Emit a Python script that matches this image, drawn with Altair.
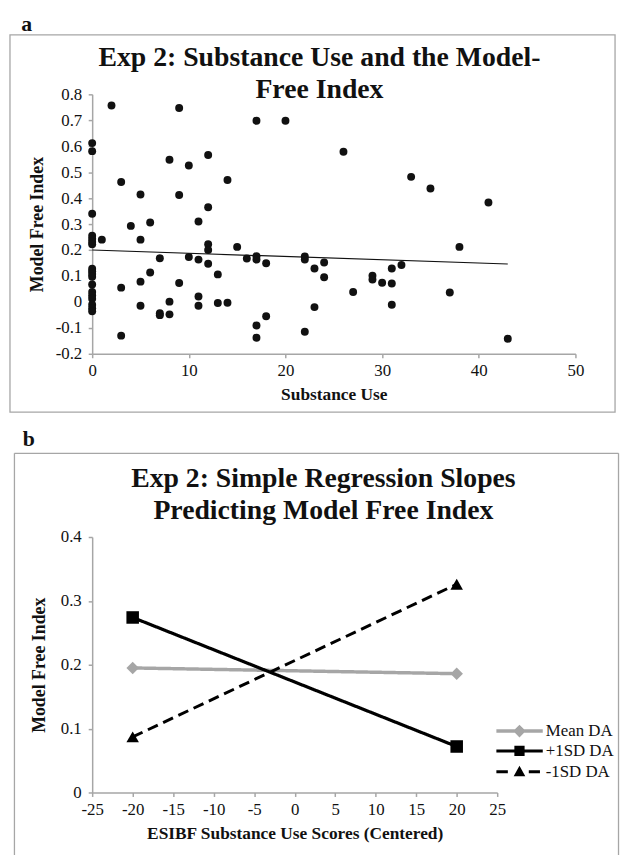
import altair as alt
import pandas as pd

FONT = "Liberation Serif, Tinos, Times New Roman, DejaVu Serif, serif"
GRAY = "#a6a6a6"

# ---------------- Panel a data ----------------
sub_use = [0, 0, 0, 0, 0, 0, 0, 0, 0, 0, 0, 0, 0, 0, 0, 0, 0, 0,
           1, 2, 3, 3, 3, 4, 5, 5, 5, 5, 6, 6, 7, 7, 7, 8, 8, 8,
           9, 9, 9, 10, 10, 11, 11, 11, 11, 12, 12, 12, 12, 12,
           13, 13, 14, 14, 15, 16, 17, 17, 17, 17, 17, 18, 18, 20,
           22, 22, 22, 23, 23, 24, 24, 26, 27, 29, 29, 30, 31, 31, 31,
           32, 33, 35, 37, 38, 41, 43]
mfi = [0.612, 0.581, 0.340, 0.255, 0.243, 0.232, 0.222, 0.128, 0.118, 0.108,
       0.097, 0.067, 0.038, 0.025, 0.012, -0.011, -0.024, -0.036,
       0.240, 0.757, 0.462, 0.055, -0.130, 0.293, 0.414, 0.240, 0.078, -0.015,
       0.306, 0.113, 0.168, -0.044, -0.051, 0.548, 0.001, -0.048,
       0.747, 0.412, 0.073, 0.526, 0.173, 0.310, 0.163, 0.021, -0.015,
       0.566, 0.365, 0.222, 0.200, 0.147,
       0.106, -0.004, 0.470, -0.003, 0.212, 0.167, 0.698, 0.176, 0.163, -0.091,
       -0.138, 0.149, -0.055, 0.698,
       0.175, 0.163, -0.115, 0.129, -0.020, 0.152, 0.095, 0.579, 0.038, 0.101,
       0.086, 0.074, 0.129, 0.071, -0.011,
       0.142, 0.482, 0.437, 0.036, 0.212, 0.383, -0.142]
trend_x = [0, 43]
trend_y = [0.200, 0.146]

xa_ticks = [0, 10, 20, 30, 40, 50]
ya_ticks = [-0.2, -0.1, 0, 0.1, 0.2, 0.3, 0.4, 0.5, 0.6, 0.7, 0.8]

# ---------------- Panel b data ----------------
slope_x = [-20, 20]
series_names = ["Mean DA", "+1SD DA", "-1SD DA"]
mean_da = [0.195, 0.186]
plus_sd = [0.274, 0.072]
minus_sd = [0.087, 0.326]
series_colors = [GRAY, "#000000", "#000000"]
series_dash = [[1, 0], [1, 0], [11, 6]]
series_width = [3.5, 3, 3]
series_shapes = ["diamond", "square", "triangle-up"]
legend_paths = [
    "M-1,-0.075L1,-0.075L1,0.075L-1,0.075Z M0,-0.27L0.27,0L0,0.27L-0.27,0Z",
    "M-1,-0.064L1,-0.064L1,0.064L-1,0.064Z M-0.22,-0.22L0.22,-0.22L0.22,0.22L-0.22,0.22Z",
    "M-1,-0.064L-0.5,-0.064L-0.5,0.064L-1,0.064Z M0.4,-0.064L0.88,-0.064L0.88,0.064L0.4,0.064Z M0,-0.26L0.25,0.2L-0.25,0.2Z",
]

xb_ticks = [-25, -20, -15, -10, -5, 0, 5, 10, 15, 20, 25]
yb_ticks = [0, 0.1, 0.2, 0.3, 0.4]

title_a = ["Exp 2: Substance Use and the Model-", "Free Index"]
title_b = ["Exp 2: Simple Regression Slopes", "Predicting Model Free Index"]

one = pd.DataFrame({"k": [0]})


def rect(x, x2, y, y2, **kw):
    return alt.Chart(one).mark_rect(**kw).encode(
        x=alt.value(x), x2=alt.value(x2), y=alt.value(y), y2=alt.value(y2))


def rule(x, x2, y, y2):
    return alt.Chart(one).mark_rule(color=GRAY, strokeWidth=1.3).encode(
        x=alt.value(x), x2=alt.value(x2), y=alt.value(y), y2=alt.value(y2))


def label(txt, x, y, size, baseline="alphabetic", align="left", lh=None):
    kw = dict(text=txt, font=FONT, fontSize=size, fontWeight="bold",
              align=align, baseline=baseline, color="#111111")
    if lh:
        kw["lineHeight"] = lh
    return alt.Chart(one).mark_text(**kw).encode(x=alt.value(x), y=alt.value(y))


neg_fmt = lambda f: f"datum.value < 0 ? '-' + format(-datum.value, '{f}') : format(datum.value, '{f}')"

# ---------------- Panel a ----------------
WA, HA = 488, 262
scatter_df = pd.DataFrame({"x": sub_use, "y": mfi})
trend_df = pd.DataFrame({"x": trend_x, "y": trend_y})

xa = alt.X("x:Q", scale=alt.Scale(domain=[0, 50], nice=False, zero=False),
           axis=alt.Axis(values=xa_ticks, title="Substance Use", format="d",
                         labelFont=FONT, labelFontSize=17, labelPadding=5, titlePadding=7,
                         labelFlush=False))
ya = alt.Y("y:Q", scale=alt.Scale(domain=[-0.2, 0.8], nice=False, zero=False),
           axis=alt.Axis(values=ya_ticks, title="Model Free Index",
                         labelExpr=neg_fmt(".1~f"), labelFont=FONT, labelFontSize=17,
                         labelPadding=6.5, titlePadding=9, titleFontSize=18,
                         labelFlush=False))

pts = alt.Chart(scatter_df).mark_circle(size=64, color="#111111", opacity=1).encode(x=xa, y=ya)
trend = alt.Chart(trend_df).mark_line(color="#111111", strokeWidth=1.2).encode(x=xa, y=ya)

panel_a = alt.layer(
    rect(-83.5, 528.5, -82, 330, opacity=0),
    rect(-83, 528, -60, 321, fill="white", fillOpacity=0, stroke=GRAY, strokeWidth=1.3),
    trend,
    pts,
    label("a", -71.5, -64, 22),
    label(title_a, 229.5, -50.4, 28, baseline="top", align="center", lh=32),
).properties(width=WA, height=HA)

# ---------------- Panel b ----------------
WB, HB = 409, 258
slope_df = pd.DataFrame({
    "x": slope_x * 3,
    "y": mean_da + plus_sd + minus_sd,
    "series": [n for n in series_names for _ in slope_x],
})

xb = alt.X("x:Q", scale=alt.Scale(domain=[-25, 25], nice=False, zero=False),
           axis=alt.Axis(values=xb_ticks, title="ESIBF Substance Use Scores (Centered)",
                         labelExpr=neg_fmt("d"), labelFont=FONT, labelFontSize=17,
                         labelPadding=5.5, titlePadding=6.5, labelFlush=False))
yb = alt.Y("y:Q", scale=alt.Scale(domain=[0, 0.4], nice=False, zero=False),
           axis=alt.Axis(values=yb_ticks, title="Model Free Index", format=".1~f",
                         labelFont=FONT, labelFontSize=17, labelPadding=7, titlePadding=12,
                         titleFontSize=18, labelFlush=False))

lines = alt.Chart(slope_df).mark_line().encode(
    x=xb, y=yb,
    stroke=alt.Stroke("series:N", scale=alt.Scale(domain=series_names, range=series_colors), legend=None),
    strokeDash=alt.StrokeDash("series:N", scale=alt.Scale(domain=series_names, range=series_dash), legend=None),
    strokeWidth=alt.StrokeWidth("series:N", scale=alt.Scale(domain=series_names, range=series_width), legend=None),
)
markers = alt.Chart(slope_df).mark_point(filled=True, size=160, opacity=1).encode(
    x=xb, y=yb,
    color=alt.Color("series:N", scale=alt.Scale(domain=series_names, range=series_colors), legend=None),
    shape=alt.Shape("series:N", scale=alt.Scale(domain=series_names, range=series_shapes), legend=None),
)


def legend_part(names, paths, color, ly):
    leg = alt.Legend(orient="none", legendX=408, legendY=ly, title=None,
                     labelFont=FONT, labelFontSize=17, labelColor="#111111",
                     labelOffset=3, symbolSize=2209, symbolStrokeWidth=0,
                     symbolOpacity=1, symbolOffset=0, clipHeight=16, rowPadding=4,
                     padding=0, labelLimit=200)
    df = pd.DataFrame({"series": names})
    return alt.Chart(df).transform_filter("false").mark_point(
        filled=True, opacity=1, size=2209, color=color).encode(
        shape=alt.Shape("series:N", scale=alt.Scale(domain=names, range=paths), legend=leg))


leg_gray = legend_part(series_names[:1], legend_paths[:1], series_colors[0], 188)
leg_black = legend_part(series_names[1:], legend_paths[1:], series_colors[1], 208)

panel_b = alt.layer(
    rect(-80, 532, -115, 321, opacity=0),
    rule(-78.5, -78.5, -84.5, 321),
    rule(531.5, 531.5, -84.5, 321),
    rule(-78.5, 531.5, -84.5, -84.5),
    lines,
    markers,
    leg_gray,
    leg_black,
    label("b", -70, -92, 22),
    label(title_b, 233.5, -72.1, 28, baseline="top", align="center", lh=32),
).resolve_scale(shape="independent").properties(width=WB, height=HB)

chart = alt.vconcat(panel_a, panel_b, spacing=0).properties(
    padding=0
).configure_view(stroke="transparent").configure_axis(
    grid=False, domainColor=GRAY, tickColor=GRAY, domainWidth=1.5, tickWidth=1.5,
    tickSize=4, labelFont=FONT, labelColor="#111111", titleFont=FONT,
    titleFontWeight="bold", titleFontSize=17.5, titleColor="#111111", labelFlush=False,
)

chart.save("out.html", embed_options={"renderer": "svg", "actions": False})
